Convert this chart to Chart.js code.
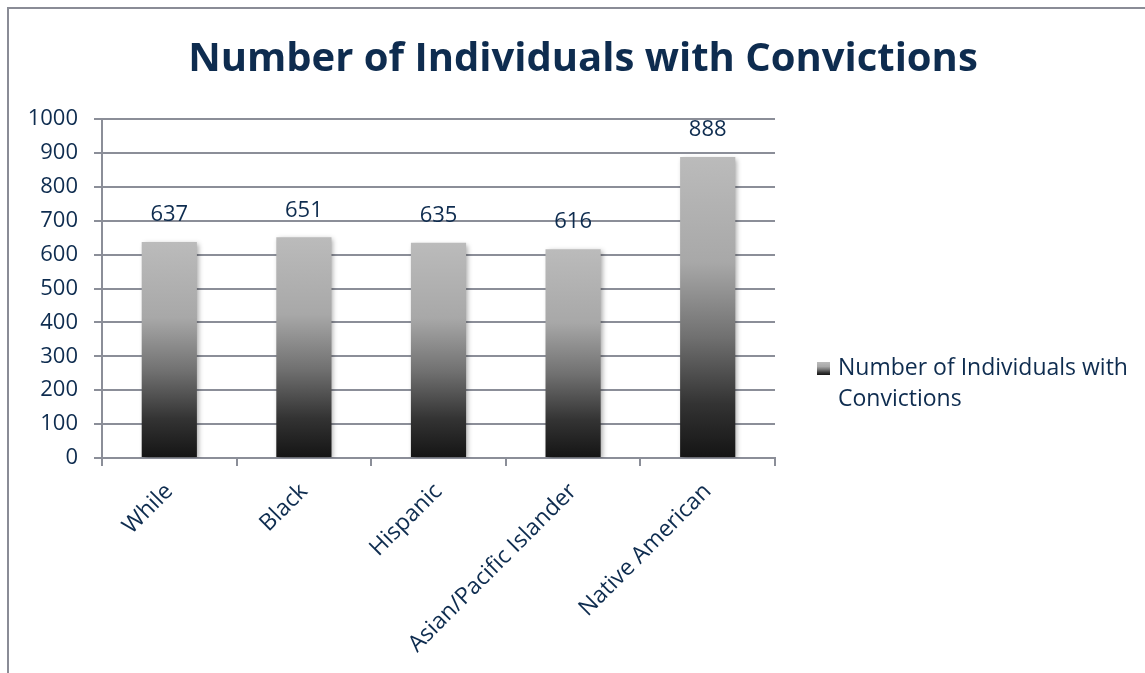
<!DOCTYPE html>
<html>
<head>
<meta charset="utf-8">
<script src="https://cdn.jsdelivr.net/npm/chart.js@4"></script>
<style>
  html, body { margin: 0; padding: 0; background: #fff; overflow: hidden; }
  canvas { display: block; }
</style>
</head>
<body>
<canvas id="convictionChart" width="1145" height="673"></canvas>
<script>
var categories = ["While", "Black", "Hispanic", "Asian/Pacific Islander", "Native American"];
var convictions = [637, 651, 635, 616, 888];
var seriesName = "Number of Individuals with Convictions";
var legendLines = ["Number of Individuals with", "Convictions"];
var yTicks = [0, 100, 200, 300, 400, 500, 600, 700, 800, 900, 1000];

var navy = '#0e2c4f';
var gridGray = '#8b8e98';
var fontName = '"Open Sans", Lato, sans-serif';

// gray-to-black gradient, one per bar
function barGradient(c, top, bottom) {
     var g = c.createLinearGradient(0, top, 0, bottom);
     g.addColorStop(0, '#bbbbbb');
     g.addColorStop(0.35, '#a8a8a8');
     g.addColorStop(0.6, '#707070');
     g.addColorStop(0.82, '#333333');
     g.addColorStop(1, '#141414');
     return g;
}

// outer frame + title + legend
var framePlugin = {
     id: 'frame',
     beforeDraw: function(chart) {
          var c = chart.ctx;
          c.save();
          c.strokeStyle = '#8a8c96';
          c.lineWidth = 2;
          c.strokeRect(8, 8, 1300, 800);
          c.restore();
     },
     afterDraw: function(chart) {
          var c = chart.ctx;
          c.save();
          c.fillStyle = navy;
          c.textAlign = 'center';
          c.textBaseline = 'middle';
          c.font = 'bold 40px ' + fontName;
          c.fillText(seriesName, 583, 60);

          // legend
          c.fillStyle = barGradient(c, 362, 375);
          c.fillRect(817, 362, 13, 13);
          c.fillStyle = navy;
          c.textAlign = 'left';
          c.font = '23px ' + fontName;
          for (var i = 0; i < legendLines.length; i++) {
               c.fillText(legendLines[i], 838, 368 + i * 31);
          }
          c.restore();
     }
};

// bar shadow + value labels
var labelPlugin = {
     id: 'valueLabels',
     beforeDatasetsDraw: function(chart) {
          var c = chart.ctx;
          c.save();
          c.shadowColor = 'rgba(0,0,0,0.35)';
          c.shadowBlur = 5;
          c.shadowOffsetX = 2;
          c.shadowOffsetY = 2;
     },
     afterDatasetsDraw: function(chart) {
          var c = chart.ctx;
          c.restore();
          c.save();
          c.fillStyle = navy;
          c.font = '22px ' + fontName;
          c.textAlign = 'center';
          c.textBaseline = 'middle';
          var meta = chart.getDatasetMeta(0);
          meta.data.forEach(function(bar, i) {
               c.fillText(String(convictions[i]), bar.x, bar.y - 27);
          });
          c.restore();
     }
};

var ctx = document.getElementById('convictionChart').getContext('2d');

new Chart(ctx, {
     type: 'bar',
     data: {
          labels: categories,
          datasets: [
               {
                    label: seriesName,
                    data: convictions,
                    borderWidth: 0,
                    categoryPercentage: 1,
                    barPercentage: 0.41,
                    backgroundColor: function(context) {
                         var chart = context.chart;
                         if (!chart.chartArea) return '#999999';
                         var ys = chart.scales.y;
                         var top = ys.getPixelForValue(context.raw);
                         var bottom = ys.getPixelForValue(0);
                         return barGradient(chart.ctx, top, bottom);
                    }
               }
          ]
     },
     options: {
          responsive: false,
          animation: false,
          events: [],
          layout: {
               padding: { top: 119, right: 370, bottom: 0, left: 0 }
          },
          plugins: {
               legend: false,
               title: { display: false },
               tooltip: { enabled: false }
          },
          scales: {
               y: {
                    min: 0,
                    max: 1000,
                    afterFit: function(scale) { scale.width = 102; },
                    afterBuildTicks: function(scale) {
                         scale.ticks = yTicks.map(function(v) { return { value: v }; });
                    },
                    border: { color: gridGray, width: 2 },
                    grid: {
                         color: gridGray,
                         lineWidth: 2,
                         tickLength: 8
                    },
                    ticks: {
                         color: navy,
                         font: { family: fontName, size: 22 },
                         padding: 16,
                         callback: function(v) { return String(v); }
                    }
               },
               x: {
                    afterFit: function(scale) { scale.height = 215; },
                    border: { color: gridGray, width: 2 },
                    grid: {
                         color: gridGray,
                         lineWidth: 2,
                         drawOnChartArea: false,
                         tickLength: 8
                    },
                    ticks: {
                         color: navy,
                         font: { family: fontName, size: 23 },
                         minRotation: 45,
                         maxRotation: 45,
                         padding: 12
                    }
               }
          }
     },
     plugins: [framePlugin, labelPlugin]
});
</script>
</body>
</html>
